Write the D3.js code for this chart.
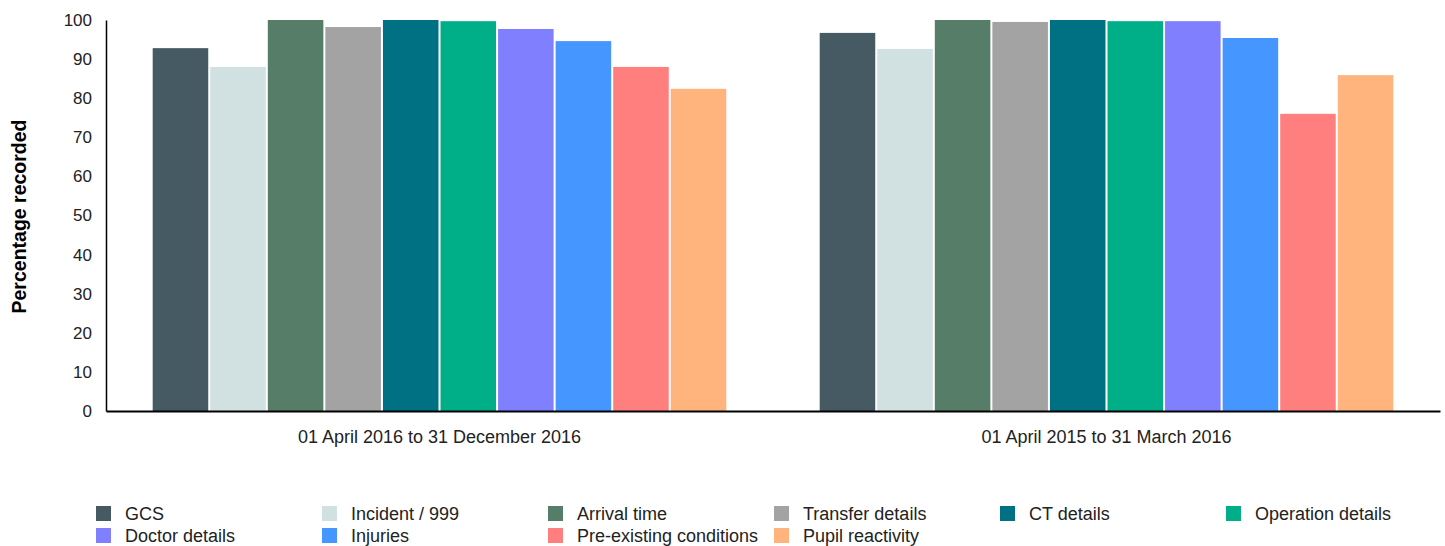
<!DOCTYPE html>
<html>
<head>
<meta charset="utf-8">
<script src="https://cdn.jsdelivr.net/npm/d3@7"></script>
<style>
  html, body { margin: 0; padding: 0; background: #fff; }
  svg { display: block; font-family: "Liberation Sans", Arial, sans-serif; }
</style>
</head>
<body>
<svg id="chart" width="1445" height="546"></svg>
<script>
// Reporting periods (x-axis groups)
const periods = ["01 April 2016 to 31 December 2016", "01 April 2015 to 31 March 2016"];

// Data items recorded
const items = [
  "GCS", "Incident / 999", "Arrival time", "Transfer details", "CT details",
  "Operation details", "Doctor details", "Injuries", "Pre-existing conditions", "Pupil reactivity"
];

// Percentage recorded per item, one array per period
const period2016 = [92.8, 88.0, 100, 98.2, 100, 99.7, 97.7, 94.6, 88.0, 82.4];
const period2015 = [96.7, 92.6, 100, 99.5, 100, 99.7, 99.7, 95.4, 76.0, 85.9];

const yTicks = [0, 10, 20, 30, 40, 50, 60, 70, 80, 90, 100];

const colors = [
  "#455a62", "#d1e1e1", "#567d68", "#a3a3a3", "#007083",
  "#00af87", "#8080ff", "#4596ff", "#ff7f7f", "#ffb47e"
];

const seriesByPeriod = [period2016, period2015];

const svg = d3.select("#chart");
const margin = { left: 106, right: 5, top: 20, bottom: 135 };
const width = 1445, height = 546;
const plotBottom = height - margin.bottom; // 411

const x0 = d3.scaleBand()
  .domain(periods)
  .range([margin.left, width - margin.right])
  .paddingInner(0.14)
  .paddingOuter(0.07);

const x1 = d3.scaleBand()
  .domain(items)
  .range([0, x0.bandwidth()])
  .paddingInner(0.035);

const y = d3.scaleLinear()
  .domain([0, 100])
  .range([plotBottom, margin.top]);

const color = d3.scaleOrdinal().domain(items).range(colors);

// Bars
const groups = svg.append("g")
  .selectAll("g")
  .data(periods)
  .join("g")
  .attr("transform", p => `translate(${x0(p)},0)`);

groups.selectAll("rect")
  .data((p, i) => items.map((item, j) => ({ item, value: seriesByPeriod[i][j] })))
  .join("rect")
  .attr("x", d => x1(d.item))
  .attr("y", d => y(d.value))
  .attr("width", x1.bandwidth())
  .attr("height", d => plotBottom - y(d.value))
  .attr("fill", d => color(d.item));

// Y axis
const yAxis = svg.append("g")
  .attr("transform", `translate(${margin.left},0)`)
  .call(d3.axisLeft(y).tickValues(yTicks).tickSize(0).tickPadding(14));
yAxis.select(".domain").attr("stroke", "#000").attr("stroke-width", 1.5);
yAxis.selectAll("text")
  .attr("font-size", 17)
  .attr("fill", "#222")
  .attr("font-family", "'Liberation Sans', Arial, sans-serif");

// X axis
const xAxis = svg.append("g")
  .attr("transform", `translate(0,${plotBottom})`)
  .call(d3.axisBottom(x0).tickSize(0).tickPadding(19).tickSizeOuter(0));
xAxis.select(".domain").attr("stroke", "#000").attr("stroke-width", 2);
xAxis.selectAll("text")
  .attr("font-size", 18)
  .attr("fill", "#222")
  .attr("font-family", "'Liberation Sans', Arial, sans-serif");

// Y axis title
svg.append("text")
  .attr("transform", `translate(26,${(margin.top + plotBottom) / 2 + 1}) rotate(-90)`)
  .attr("text-anchor", "middle")
  .attr("font-size", 19.5)
  .attr("font-weight", "bold")
  .attr("fill", "#000")
  .text("Percentage recorded");

// Legend: 6 columns, wraps to a second row
const legendCols = 6;
const legend = svg.append("g")
  .selectAll("g")
  .data(items)
  .join("g")
  .attr("transform", (d, i) => `translate(${96 + (i % legendCols) * 226},${506 + Math.floor(i / legendCols) * 22})`);

legend.append("rect")
  .attr("width", 15)
  .attr("height", 15)
  .attr("fill", d => color(d));

legend.append("text")
  .attr("x", 29)
  .attr("y", 8)
  .attr("dy", "0.35em")
  .attr("font-size", 18)
  .attr("fill", "#222")
  .text(d => d);
</script>
</body>
</html>
